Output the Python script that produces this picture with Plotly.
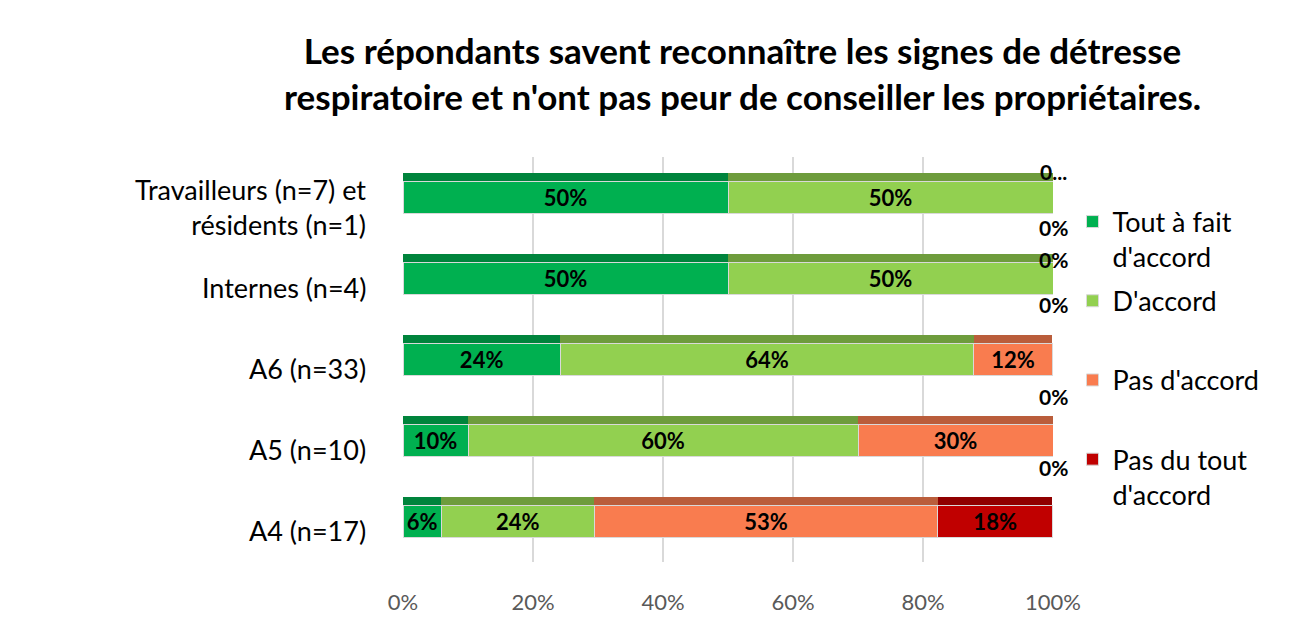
import plotly.graph_objects as go

# categories, bottom to top as plotly draws them
groups = ["A4 (n=17)", "A5 (n=10)", "A6 (n=33)", "Internes (n=4)",
          "Travailleurs (n=7) et<br>résidents (n=1)"]

# percentages per answer
tout_a_fait = [5.9, 10, 24.2, 50, 50]
d_accord = [23.5, 60, 63.6, 50, 50]
pas_d_accord = [52.9, 30, 12.1, 0, 0]
pas_du_tout = [17.6, 0, 0, 0, 0]

# name, values, front colour, darker top colour (Excel 3D look)
series = [
    ("Tout à fait<br>d'accord", tout_a_fait, "#00B050", "#00843C"),
    ("D'accord<br>&nbsp;", d_accord, "#92D050", "#6E9C3C"),
    ("Pas d'accord<br>&nbsp;", pas_d_accord, "#F97C4F", "#BA5D3B"),
    ("Pas du tout<br>d'accord", pas_du_tout, "#C00000", "#900000"),
]

FONT = "Lato"

fig = go.Figure()
for i, (name, vals, col, top) in enumerate(series):
    fig.add_trace(go.Bar(
        y=groups, x=vals, name=name, orientation="h",
        marker=dict(color=col, line=dict(color="#D9D9D9", width=1)),
        text=[f"{round(v)}%" if v > 0 else "" for v in vals],
        textposition="inside", insidetextanchor="middle", constraintext="none",
        textfont=dict(family=FONT, size=22, color="black", weight="bold"),
        legendgroup=str(i), cliponaxis=False,
    ))
    # thin darker strip on top of each segment
    fig.add_trace(go.Bar(
        y=groups, x=vals, orientation="h", yaxis="y2",
        width=0.1, offset=0.2,
        marker=dict(color=top, line=dict(width=0)),
        legendgroup=str(i), showlegend=False, hoverinfo="skip",
    ))

# category labels, set slightly below the bar centre like in Excel's 3D view
for g in groups:
    fig.add_annotation(x=-0.054, xref="paper", y=g, yref="y", text=g,
                       showarrow=False, xanchor="right", align="right", yshift=-9,
                       font=dict(family=FONT, size=27, color="black"))

# labels of the zero-width segments, as Excel places them at the bar end
zero_notes = [
    (groups[4], "0...", 26),
    (groups[4], "0%", -30),
    (groups[3], "0%", 19),
    (groups[3], "0%", -26),
    (groups[2], "0%", -37),
    (groups[1], "0%", -27),
]
for g, txt, dy in zero_notes:
    fig.add_annotation(x=100, y=g, text=txt, showarrow=False, xanchor="center",
                       yshift=dy,
                       font=dict(family=FONT, size=21, color="black", weight="bold"))

fig.update_layout(
    barmode="stack", bargap=0.6,
    width=1291, height=623,
    paper_bgcolor="white", plot_bgcolor="white",
    margin=dict(l=395, r=246, t=149, b=69),
    title=dict(
        text="Les répondants savent reconnaître les signes de détresse<br>"
             "respiratoire et n'ont pas peur de conseiller les propriétaires.",
        xref="container", x=0.569, xanchor="center",
        yref="container", y=0.91, yanchor="top",
        font=dict(family=FONT, size=35, color="black", weight="bold"),
    ),
    legend=dict(
        x=1.03, xanchor="left", y=0.9, yanchor="top", valign="top",
        font=dict(family=FONT, size=27, color="black"),
        tracegroupgap=6, traceorder="grouped",
    ),
    font=dict(family=FONT),
    yaxis2=dict(overlaying="y", matches="y", showticklabels=False,
                showgrid=False, zeroline=False),
)
fig.update_xaxes(
    range=[0, 100], tickvals=[0, 20, 40, 60, 80, 100],
    ticktext=["0%", "20%", "40%", "60%", "80%", "100%"],
    showgrid=True, gridcolor="#D9D9D9", gridwidth=2, zeroline=False,
    tickfont=dict(family=FONT, size=22, color="#595959"),
    ticklabelstandoff=25, automargin=False,
)
fig.update_layout(yaxis=dict(showticklabels=False, showline=False, automargin=False,
                             categoryorder="array", categoryarray=groups))

fig.write_html("out.html")
